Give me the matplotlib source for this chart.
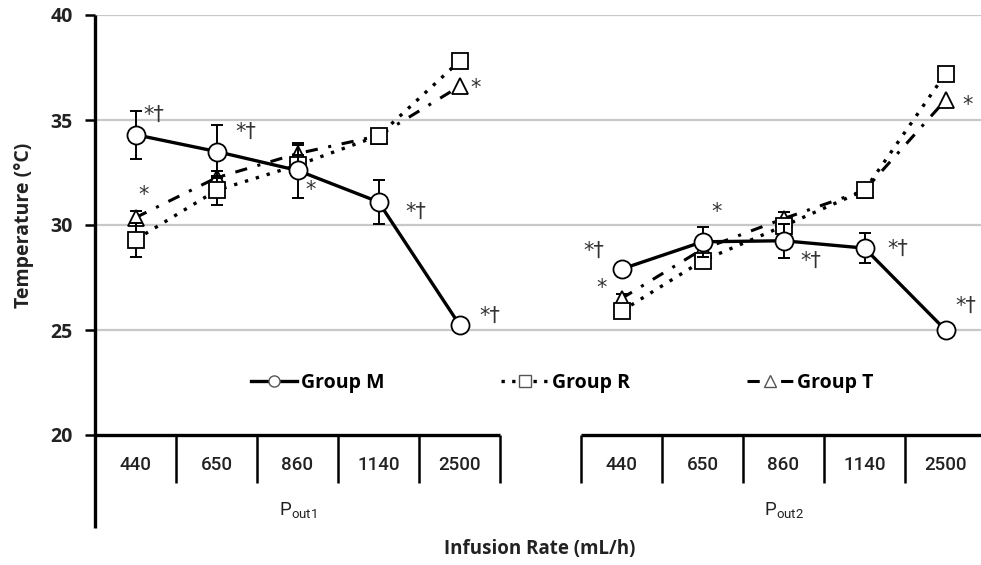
import matplotlib
matplotlib.use("Agg")
import matplotlib.pyplot as plt
from matplotlib.lines import Line2D
import numpy as np

# --- data ------------------------------------------------------------------
rates = ["440", "650", "860", "1140", "2500"]
groups = [r"$\mathregular{P_{out1}}$", r"$\mathregular{P_{out2}}$"]

m_mean = [34.3, 33.5, 32.6, 31.1, 25.25, 27.9, 29.2, 29.25, 28.9, 25.0]
m_err = [1.15, 1.25, 1.3, 1.05, 0.0, 0.0, 0.7, 0.8, 0.7, 0.0]
r_mean = [29.3, 31.65, 32.85, 34.25, 37.8, 25.9, 28.3, 29.95, 31.65, 37.2]
r_err = [0.8, 0.7, 0.5, 0.3, 0.0, 0.35, 0.3, 0.3, 0.2, 0.0]
t_mean = [30.35, 32.25, 33.4, 34.25, 36.6, 26.5, 28.85, 30.3, 31.65, 35.95]
t_err = [0.3, 0.3, 0.4, 0.2, 0.0, 0.2, 0.3, 0.3, 0.2, 0.0]

# significance marks: (series, point index, text, dx px, dy px)
marks = [
    ("M", 0, "*†", 18, 20), ("M", 1, "*†", 29, 20), ("M", 2, "*", 13, -20),
    ("M", 3, "*†", 37, -10), ("M", 4, "*†", 30, 9), ("T", 0, "*", 8, 23),
    ("T", 4, "*", 16, -2),
    ("M", 5, "*†", -28, 18), ("T", 5, "*", -20, 11), ("M", 6, "*", 14, 30),
    ("M", 7, "*†", 27, -20), ("M", 8, "*†", 33, -1), ("M", 9, "*†", 20, 24),
    ("T", 9, "*", 22, -5),
]

FONT = "Open Sans"
W, H = 981, 565

fig = plt.figure(figsize=(W / 100, H / 100), dpi=100)
ax = fig.add_axes([95 / W, 1 - 435 / H, 891 / W, 420 / H])

# slot positions: 5 rates, one empty slot, 5 rates
xpos = np.r_[np.arange(5), np.arange(6, 11)]
segments = [slice(0, 5), slice(5, 10)]

styles = {
    "M": dict(means=m_mean, errs=m_err, marker="o", ms=13, ls="-", lw=2.4, z=5),
    "R": dict(means=r_mean, errs=r_err, marker="s", ms=11, ls=(0, (1, 2.4)), lw=2.4, z=4),
    "T": dict(means=t_mean, errs=t_err, marker="^", ms=12, ls=(0, (4, 3.5, 1, 3.5)), lw=2.2, z=3),
}
series = {}
for key, st in styles.items():
    means = np.array(st["means"])
    errs = np.array(st["errs"])
    series[key] = means
    for seg in segments:
        x = xpos[seg]
        y = means[seg]
        e = errs[seg]
        ax.errorbar(x, y, yerr=np.where(e > 0, e, np.nan), fmt="none", ecolor="black",
                    elinewidth=1.4, capsize=4, capthick=1.4, zorder=st["z"])
        ax.plot(x, y, color="black", ls=st["ls"], lw=st["lw"], marker=st["marker"],
                ms=st["ms"], mfc="white", mec="black", mew=1.3, zorder=st["z"] + 0.5)

for key, i, txt, dx, dy in marks:
    ax.annotate(txt, (xpos[i], series[key][i]), xytext=(dx, dy), textcoords="offset pixels",
                ha="center", va="center", fontsize=15, color="#333333", family="DejaVu Sans")

ax.set_xlim(-0.5, 10.5)
ax.set_ylim(20, 40)
ax.set_yticks([20, 25, 30, 35, 40])
ax.set_xticks([])
for y in [25, 30, 35, 40]:
    ax.axhline(y, color="#c8c8c8", lw=1.6, zorder=0)

for side in ["top", "right", "bottom", "left"]:
    ax.spines[side].set_visible(False)
ax.tick_params(axis="y", direction="out", length=7, width=1.8, pad=9)
for lab in ax.get_yticklabels():
    lab.set_fontweight("bold")
    lab.set_fontsize(14)
    lab.set_family(FONT)
    lab.set_color("#222222")

# y axis line running down through the category table
trans = ax.get_xaxis_transform()
ax.plot([-0.5, -0.5], [-0.221, 1.0], transform=trans, color="black", lw=2.4,
        clip_on=False, solid_capstyle="butt", zorder=6)

# broken x axis with category boxes
for seg, label in zip(segments, groups):
    x = xpos[seg]
    lo, hi = x[0] - 0.5, x[-1] + 0.5
    ax.plot([lo, hi], [0, 0], transform=trans, color="black", lw=2.4, clip_on=False,
            solid_capstyle="butt", zorder=6)
    for b in np.arange(lo, hi + 0.01, 1.0):
        ax.plot([b, b], [0, -0.114], transform=trans, color="black", lw=1.8,
                clip_on=False, solid_capstyle="butt")
    for xi, r in zip(x, rates):
        ax.text(xi, -0.071, r, transform=trans, ha="center", va="center", fontsize=13.5,
                family="Roboto", weight="medium", color="#222222")
    ax.text(x[2], -0.179, label, transform=trans, ha="center", va="center", fontsize=13.5,
            family="Roboto", color="#222222")

ax.set_ylabel("Temperature (\u00b0C)", fontsize=14, fontweight="bold", family=FONT,
              labelpad=12, color="#222222")
fig.text(540 / W, 1 - 549 / H, "Infusion Rate (mL/h)", ha="center", va="center",
         fontsize=13.5, fontweight="bold", family=FONT, color="#222222")

handles = [
    Line2D([], [], color="black", ls="-", lw=2.4, marker="o", ms=8, mfc="white", mec="#555555"),
    Line2D([], [], color="black", ls=(0, (1, 2.2)), lw=2.4, marker="s", ms=8, mfc="white",
           mec="#555555"),
    Line2D([], [], color="black", ls=(0, (4, 3, 1, 3)), lw=2.2, marker="^", ms=8, mfc="white",
           mec="#555555"),
]
ax.legend(handles, ["Group M", "Group R", "Group T"], ncol=3, frameon=False,
          loc="center", bbox_to_anchor=((562 - 95) / 891, (383 - 435) / -420),
          prop=dict(family=FONT, weight="bold", size=14), handlelength=2.4,
          handletextpad=0.2, columnspacing=6.0)

fig.savefig("out.png", dpi=100, facecolor="white")
